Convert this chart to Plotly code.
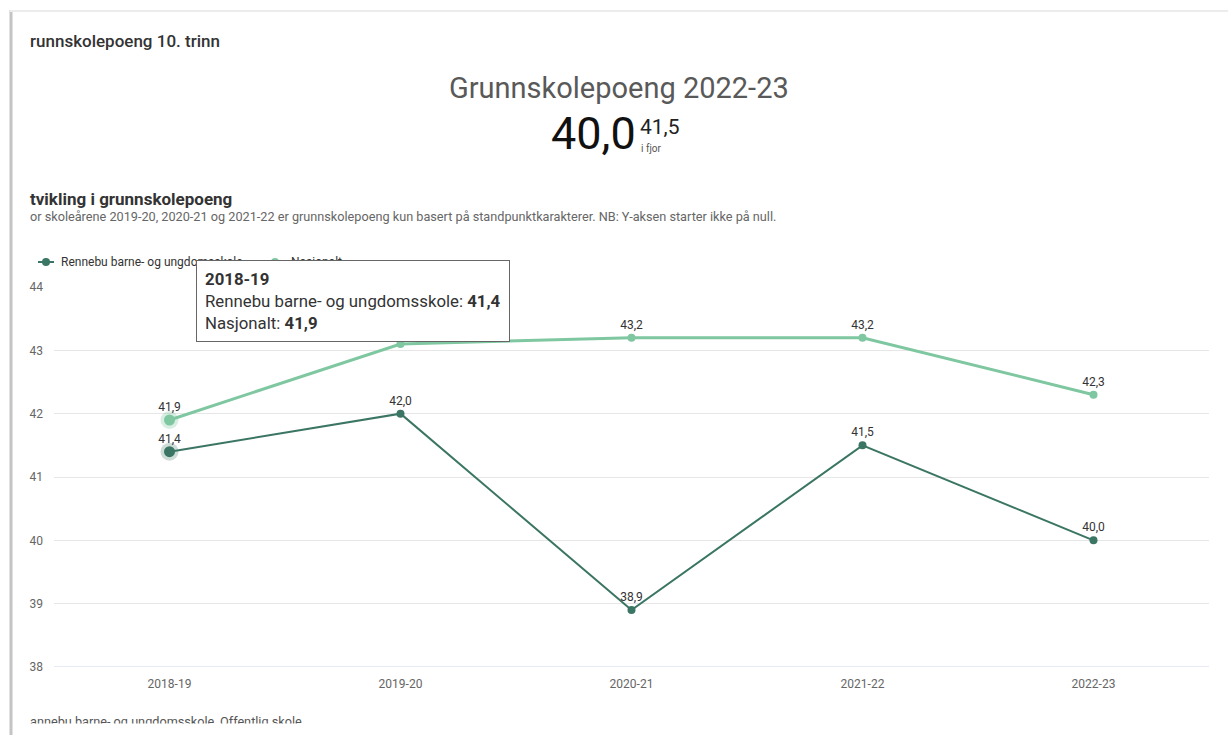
import plotly.graph_objects as go

# ---- data ----
years = ["2018-19", "2019-20", "2020-21", "2021-22", "2022-23"]
school_name = "Rennebu barne- og ungdomsskole"
national_name = "Nasjonalt"
school = [41.4, 42.0, 38.9, 41.5, 40.0]
national = [41.9, 43.1, 43.2, 43.2, 42.3]
y_ticks = [38, 39, 40, 41, 42, 43, 44]
hover_index = 0

W, H = 1228, 735
L, R, T, B = 54, 19, 287, 68
PW, PH = W - L - R, H - T - B

def px(x):
    return (x - L) / PW

def py(y):
    return (H - B - y) / PH

def fmt(v):
    return f"{v:.1f}".replace(".", ",")

DARK = "#3b7563"
LIGHT = "#7fc7a0"
FONT = "Roboto"

fig = go.Figure()

# hover halos
fig.add_trace(go.Scatter(x=[years[hover_index]], y=[national[hover_index]], mode="markers",
                         marker=dict(size=18, color=LIGHT, opacity=0.3), showlegend=False, hoverinfo="skip"))
fig.add_trace(go.Scatter(x=[years[hover_index]], y=[school[hover_index]], mode="markers",
                         marker=dict(size=18, color=DARK, opacity=0.25), showlegend=False, hoverinfo="skip"))

fig.add_trace(go.Scatter(x=years, y=school, name=school_name, mode="lines+markers+text",
                         line=dict(color=DARK, width=2), marker=dict(size=8, color=DARK),
                         texttemplate="%{y:.1f}", textposition="top center",
                         textfont=dict(size=12, color="#333333", family=FONT), showlegend=False))
fig.add_trace(go.Scatter(x=years, y=national, name=national_name, mode="lines+markers+text",
                         line=dict(color=LIGHT, width=3), marker=dict(size=8, color=LIGHT),
                         texttemplate="%{y:.1f}", textposition="top center",
                         textfont=dict(size=12, color="#333333", family=FONT), showlegend=False))

# enlarged hovered markers
fig.add_trace(go.Scatter(x=[years[hover_index]], y=[national[hover_index]], mode="markers",
                         marker=dict(size=11, color=LIGHT), showlegend=False, hoverinfo="skip"))
fig.add_trace(go.Scatter(x=[years[hover_index]], y=[school[hover_index]], mode="markers",
                         marker=dict(size=11, color=DARK), showlegend=False, hoverinfo="skip"))

ann = []
ann.append(dict(x=px(28), y=py(41), xref="paper", yref="paper", xanchor="left", yanchor="middle",
                text="runnskolepoeng 10. trinn", showarrow=False,
                font=dict(family=FONT, size=17, color="#333333", weight=500)))
ann.append(dict(x=px(619), y=py(88), xref="paper", yref="paper", xanchor="center", yanchor="middle",
                text="Grunnskolepoeng 2022-23", showarrow=False,
                font=dict(family=FONT, size=29, color="#595959")))
ann.append(dict(x=px(638), y=py(133), xref="paper", yref="paper", xanchor="right", yanchor="middle",
                text=fmt(school[-1]), showarrow=False,
                font=dict(family=FONT, size=45, color="#111111")))
ann.append(dict(x=px(638), y=py(127), xref="paper", yref="paper", xanchor="left", yanchor="middle",
                text=fmt(school[-2]), showarrow=False,
                font=dict(family=FONT, size=21, color="#222222")))
ann.append(dict(x=px(639), y=py(148), xref="paper", yref="paper", xanchor="left", yanchor="middle",
                text="i fjor", showarrow=False,
                font=dict(family=FONT, size=10, color="#555555")))
ann.append(dict(x=px(28), y=py(199), xref="paper", yref="paper", xanchor="left", yanchor="middle",
                text="<b>tvikling i grunnskolepoeng</b>", showarrow=False,
                font=dict(family=FONT, size=17, color="#333333")))
ann.append(dict(x=px(28), y=py(216), xref="paper", yref="paper", xanchor="left", yanchor="middle",
                text="or skoleårene 2019-20, 2020-21 og 2021-22 er grunnskolepoeng kun basert på standpunktkarakterer. NB: Y-aksen starter ikke på null.",
                showarrow=False, font=dict(family=FONT, size=12.7, color="#666666")))
# footnote, cut off at the bottom of the card
ann.append(dict(x=px(28), y=py(721), xref="paper", yref="paper", xanchor="left", yanchor="middle",
                text="annebu barne- og ungdomsskole, Offentlig skole", showarrow=False,
                font=dict(family=FONT, size=12.7, color="#555555")))
ann.append(dict(x=px(14), y=py(723), xref="paper", yref="paper", xanchor="left", yanchor="top",
                text=" ", showarrow=False, width=1214, height=14, bgcolor="white", borderpad=0))
# legend (drawn manually so the tooltip can sit above it)
ann.append(dict(x=px(59), y=py(262), xref="paper", yref="paper", xanchor="left", yanchor="middle",
                text=school_name, showarrow=False, font=dict(family=FONT, size=12, color="#333333")))
ann.append(dict(x=px(289), y=py(262), xref="paper", yref="paper", xanchor="left", yanchor="middle",
                text=national_name, showarrow=False, font=dict(family=FONT, size=12, color="#333333")))
# tooltip
tip = (f"<b>{years[hover_index]}</b><br>"
       f"{school_name}: <b>{fmt(school[hover_index])}</b><br>"
       f"{national_name}: <b>{fmt(national[hover_index])}</b>")
ann.append(dict(x=px(196), y=py(260), xref="paper", yref="paper", xanchor="left", yanchor="top",
                text=tip, showarrow=False, align="left", bgcolor="white",
                bordercolor="#666666", borderwidth=1, borderpad=8,
                font=dict(family=FONT, size=16.8, color="#333333")))

shapes = [
    dict(type="line", xref="paper", yref="paper", x0=px(11), x1=px(11), y0=py(10), y1=py(735),
         line=dict(color="#c4c4c4", width=3)),
    dict(type="line", xref="paper", yref="paper", x0=px(10), x1=px(1228), y0=py(11), y1=py(11),
         line=dict(color="#ececec", width=2)),
    # legend symbols
    dict(type="line", xref="paper", yref="paper", x0=px(38), x1=px(54), y0=py(262), y1=py(262),
         line=dict(color=DARK, width=2)),
    dict(type="circle", xref="paper", yref="paper", x0=px(42), x1=px(50), y0=py(266), y1=py(258),
         fillcolor=DARK, line=dict(width=0)),
    dict(type="line", xref="paper", yref="paper", x0=px(267), x1=px(283), y0=py(262), y1=py(262),
         line=dict(color=LIGHT, width=2)),
    dict(type="circle", xref="paper", yref="paper", x0=px(271), x1=px(279), y0=py(266), y1=py(258),
         fillcolor=LIGHT, line=dict(width=0)),
]

fig.update_layout(
    width=W, height=H, margin=dict(l=L, r=R, t=T, b=B),
    paper_bgcolor="white", plot_bgcolor="white",
    separators=", ",
    font=dict(family=FONT, size=12, color="#666666"),
    showlegend=False,
    annotations=ann, shapes=shapes,
    hovermode=False,
)
fig.update_xaxes(type="category", range=[-0.5, len(years) - 0.5], showgrid=False,
                 showline=False, zeroline=False, ticks="", ticklabelstandoff=8,
                 tickfont=dict(family=FONT, size=12, color="#666666"))
fig.update_yaxes(range=[y_ticks[0], y_ticks[-1]], tickvals=y_ticks, showgrid=True, gridcolor="#e6e6e6",
                 zeroline=False, showline=False, ticks="", ticklabelstandoff=10,
                 tickfont=dict(family=FONT, size=12, color="#666666"))
# baseline at the bottom of the axis
fig.add_hline(y=y_ticks[0], line=dict(color="#ccd6eb", width=1))

fig.write_html("out.html")
